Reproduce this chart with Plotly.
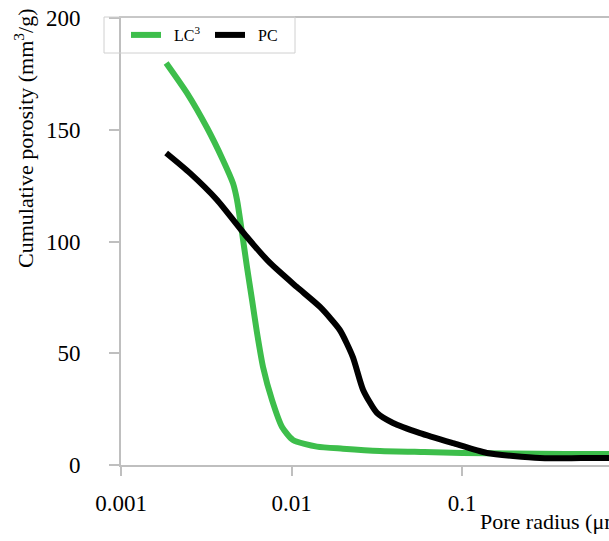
import plotly.graph_objects as go

# Pore radius (µm) and cumulative porosity (mm3/g)
lc3_radius = [0.00184, 0.00244, 0.00319, 0.00396, 0.00454, 0.00479, 0.00513, 0.00548,
              0.00587, 0.00628, 0.00681, 0.00769, 0.00880, 0.01020, 0.01410, 0.02000,
              0.03300, 0.06000, 0.10000, 0.20000, 0.40000, 0.80000]
lc3_porosity = [179.9, 166.4, 151.0, 136.5, 126.0, 118.6, 103.8, 88.6,
                73.8, 59.0, 43.8, 29.0, 17.0, 11.2, 8.2, 7.3,
                6.3, 5.8, 5.4, 5.1, 4.9, 4.9]

pc_radius = [0.00184, 0.00254, 0.00366, 0.00548, 0.00748, 0.01076, 0.01470,
             0.01920, 0.02290, 0.02630, 0.03170, 0.03940, 0.05670, 0.08850, 0.14000,
             0.28600, 0.50000, 0.80000]
pc_porosity = [139.6, 130.6, 118.6, 102.0, 90.4, 79.6, 70.7,
               60.4, 48.3, 33.6, 23.3, 18.8, 14.3, 9.8, 5.4,
               3.1, 3.1, 3.1]

y_ticks = [0, 50, 100, 150, 200]
x_ticks = [0.001, 0.01, 0.1]
x_tick_labels = ["0.001", "0.01", "0.1"]

FONT = "Liberation Serif, Times New Roman, serif"
AX = "#BFBFBF"
PW, PH, L, T = 488, 447, 121, 18
NB = "\u00a0\u00a0"

fig = go.Figure()
fig.add_trace(go.Scatter(x=lc3_radius, y=lc3_porosity, mode="lines", name=NB + "LC<sup>3</sup>",
                         line=dict(color="#3DBE4B", width=6, shape="spline", smoothing=0.6)))
fig.add_trace(go.Scatter(x=pc_radius, y=pc_porosity, mode="lines", name=NB + "PC",
                         line=dict(color="#000000", width=6, shape="spline", smoothing=0.6)))

fig.update_layout(
    width=609, height=541,
    margin=dict(l=L, r=0, t=T, b=76, autoexpand=False),
    paper_bgcolor="white", plot_bgcolor="white",
    font=dict(family=FONT, size=22, color="black"),
    showlegend=True,
    legend=dict(orientation="h", x=(126 - L) / PW, y=(465 - 35) / PH,
                xanchor="left", yanchor="middle",
                borderwidth=0, bgcolor="rgba(0,0,0,0)",
                font=dict(family=FONT, size=16), entrywidth=39, entrywidthmode="pixels"),
    xaxis=dict(type="log", range=[-3, -0.138], tickvals=x_ticks, ticktext=x_tick_labels,
               showgrid=False, zeroline=False, showline=True, linecolor=AX, linewidth=2,
               mirror=True, ticks="outside", ticklen=9, tickwidth=2, tickcolor=AX,
               ticklabelstandoff=7, tickfont=dict(family=FONT, size=23)),
    yaxis=dict(range=[0, 200], tickvals=y_ticks, showgrid=False, zeroline=False,
               showline=True, linecolor=AX, linewidth=2, ticks="outside", ticklen=10,
               tickwidth=2, tickcolor=AX, ticklabelstandoff=24,
               tickfont=dict(family=FONT, size=23)),
    shapes=[dict(type="rect", xref="paper", yref="paper",
                 x0=(104 - L) / PW, x1=(295 - L) / PW,
                 y0=(465 - 53) / PH, y1=(465 - 17) / PH,
                 line=dict(color="#D0D0D0", width=1), fillcolor="rgba(0,0,0,0)",
                 layer="above")],
    annotations=[
        dict(text="Cumulative porosity (mm<sup>3</sup>/g)", textangle=-90,
             xref="paper", yref="paper", x=(24 - L) / PW, y=(465 - 139) / PH,
             xanchor="center", yanchor="middle", showarrow=False,
             font=dict(family=FONT, size=22)),
        dict(text="Pore radius (μm)", xref="paper", yref="paper",
             x=(478 - L) / PW, y=-(521 - 465) / PH, xanchor="left", yanchor="middle",
             showarrow=False, font=dict(family=FONT, size=22)),
    ],
)

fig.write_html("out.html", config={"displayModeBar": False},
               post_script="document.body.style.margin='0';document.body.style.overflow='hidden';")
